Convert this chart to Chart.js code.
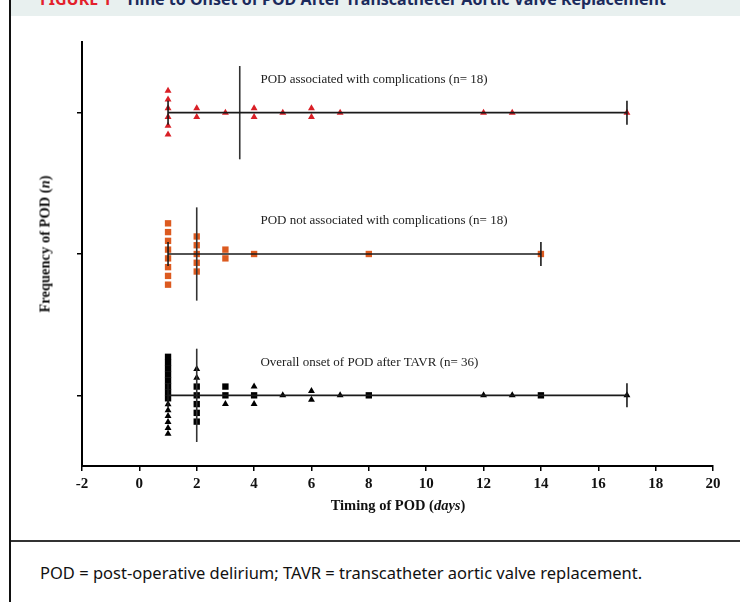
<!DOCTYPE html>
<html>
<head>
<meta charset="utf-8">
<title>Time to Onset of POD After TAVR</title>
<script src="https://cdn.jsdelivr.net/npm/chart.js@4.4.1/dist/chart.umd.min.js"></script>
<style>
  html, body { margin: 0; padding: 0; background: #fff; }
  #figure { position: relative; width: 740px; height: 602px; overflow: hidden; }
  #leftBorder { position: absolute; left: 9px; top: 0; width: 2px; height: 602px; background: #111; }
  #header { position: absolute; left: 11px; top: 0; width: 729px; height: 16px; background: #e8f0ef; overflow: hidden; }
  #header .t { position: absolute; left: 29px; top: -12px; line-height: 22px; font: bold 16px "Noto Sans", sans-serif; white-space: nowrap; }
  #header .fig { color: #e3202b; margin-right: 14px; }
  #header .name { color: #1b2a5c; }
  #divider { position: absolute; left: 11px; top: 540px; width: 729px; height: 2px; background: #333; }
  #caption { position: absolute; left: 40px; top: 562px; font: 16.5px "Noto Sans", sans-serif; line-height: 22px; color: #111; white-space: nowrap; }
  #nbaChart { position: absolute; left: 0; top: 0; }
  .axisTitle { position: absolute; font: bold 14.5px "Liberation Serif", serif; color: #111; white-space: nowrap; }
  #xTitle { left: 398px; top: 505px; transform: translate(-50%, -50%); }
  #yTitle { left: 45px; top: 244px; transform: translate(-50%, -50%) rotate(-90deg); }
</style>
</head>
<body>
<div id="figure">
  <div id="header"><div class="t"><span class="fig">FIGURE 1</span><span class="name">Time to Onset of POD After Transcatheter Aortic Valve Replacement</span></div></div>
  <div id="leftBorder"></div>
  <canvas id="nbaChart" width="740" height="541"></canvas>
  <div id="xTitle" class="axisTitle">Timing of POD (<i>days</i>)</div>
  <div id="yTitle" class="axisTitle">Frequency of POD (<i>n</i>)</div>
  <div id="divider"></div>
  <div id="caption">POD = post-operative delirium; TAVR = transcatheter aortic valve replacement.</div>
</div>
<script>
// Onset day of each POD case

// rows of the plot, bottom to top
const rowPositions = [1, 2, 3];
const rowLabels = [
    'Overall onset of POD after TAVR (n= 36)',
    'POD not associated with complications (n= 18)',
    'POD associated with complications (n= 18)'
];

// POD associated with complications (red triangles)
const complicationDays = [1, 1, 1, 1, 1, 1, 2, 2, 3, 4, 4, 5, 6, 6, 7, 12, 13, 17];

// POD not associated with complications (orange squares)
const noComplicationDays = [1, 1, 1, 1, 1, 1, 1, 1, 2, 2, 2, 2, 2, 3, 3, 4, 8, 14];

// overall row, listed top to bottom inside each day column
// C = with complications (triangle), N = without (square)
const overallDays = [1, 1, 1, 1, 1, 1, 1, 1, 1, 1, 1, 1, 1, 1,
    2, 2, 2, 2, 2, 2, 2, 3, 3, 3, 4, 4, 4, 5, 6, 6, 7, 8, 12, 13, 14, 17];
const overallGroup = ['N', 'N', 'N', 'N', 'N', 'N', 'N', 'N', 'C', 'C', 'C', 'C', 'C', 'C',
    'C', 'C', 'N', 'N', 'N', 'N', 'N', 'N', 'N', 'C', 'C', 'N', 'C', 'C', 'C', 'C', 'C', 'N', 'C', 'C', 'N', 'C'];

const xTicks = [-2, 0, 2, 4, 6, 8, 10, 12, 14, 16, 18, 20];

// look of the marks
const RED = '#d91f26';
const ORANGE = '#dc5a1f';
const LINE = '#1a1a1a';
const STEP = 0.062;       // vertical gap between stacked points (y units)
const MAX_SPAN = 0.545;   // tallest a stacked column may get
const MEDIAN_HALF = 0.33;
const CAP_HALF = 0.085;

// stack points of the same day in a column centred on the row
function stackColumn(days, row) {
    const pts = [];
    let i = 0;
    while (i < days.length) {
        let j = i;
        while (j < days.length && days[j] === days[i]) j++;
        const n = j - i;
        const step = n > 1 ? Math.min(STEP, MAX_SPAN / (n - 1)) : 0;
        for (let k = 0; k < n; k++) {
            pts.push({ x: days[i], y: row + ((n - 1) / 2 - k) * step });
        }
        i = j;
    }
    return pts;
}

function median(days) {
    const s = days.slice().sort((a, b) => a - b);
    const m = Math.floor(s.length / 2);
    return s.length % 2 ? s[m] : (s[m - 1] + s[m]) / 2;
}

function lineSet(points, color) {
    return {
        data: points,
        showLine: true,
        borderColor: color || LINE,
        borderWidth: 1.6,
        pointRadius: 0,
        fill: false
    };
}

// range line, end caps and median for one row
function summaryLines(days, row) {
    const lo = Math.min(...days);
    const hi = Math.max(...days);
    const med = median(days);
    return [
        lineSet([{ x: lo, y: row }, { x: hi, y: row }]),
        lineSet([{ x: lo, y: row - CAP_HALF }, { x: lo, y: row + CAP_HALF }]),
        lineSet([{ x: hi, y: row - CAP_HALF }, { x: hi, y: row + CAP_HALF }]),
        lineSet([{ x: med, y: row - MEDIAN_HALF }, { x: med, y: row + MEDIAN_HALF }], '#333')
    ];
}

function pointSet(points, color, style, radius) {
    return {
        data: points,
        showLine: false,
        pointStyle: style,
        pointRadius: radius,
        pointBackgroundColor: color,
        pointBorderColor: color,
        pointBorderWidth: 0
    };
}

// overall row: place all points together, then split by marker
const overallPts = stackColumn(overallDays, rowPositions[0]);
const overallTri = overallPts.filter((p, i) => overallGroup[i] === 'C');
const overallSq = overallPts.filter((p, i) => overallGroup[i] === 'N');

// first datasets are drawn on top, so lines go first
const datasets = [
    ...summaryLines(overallDays, rowPositions[0]),
    ...summaryLines(noComplicationDays, rowPositions[1]),
    ...summaryLines(complicationDays, rowPositions[2]),
    pointSet(stackColumn(complicationDays, rowPositions[2]), RED, 'triangle', 4),
    pointSet(stackColumn(noComplicationDays, rowPositions[1]), ORANGE, 'rect', 4.5),
    pointSet(overallTri, '#000', 'triangle', 4),
    pointSet(overallSq, '#000', 'rect', 4.5)
];

// text next to each row
const rowLabelPlugin = {
    id: 'rowLabels',
    afterDatasetsDraw(chart) {
        const { ctx, scales: { x, y } } = chart;
        ctx.save();
        ctx.font = '13px "Liberation Serif"';
        ctx.fillStyle = '#222';
        ctx.textBaseline = 'middle';
        rowLabels.forEach((label, i) => {
            ctx.fillText(label, x.getPixelForValue(4.22), y.getPixelForValue(rowPositions[i] + 0.235));
        });
        ctx.restore();
    }
};

const axisBorder = { display: true, color: '#000', width: 2 };
const axisGrid = { drawOnChartArea: false, drawTicks: true, tickLength: 5, color: '#000', lineWidth: 1.5 };

const ctx = document.getElementById('nbaChart').getContext('2d');
let chart = new Chart(ctx, {
    type: 'scatter',
    data: { datasets: datasets },
    options: {
        responsive: false,
        animation: false,
        layout: { padding: { top: 42, right: 27, left: 0, bottom: 0 } },
        plugins: { legend: { display: false }, tooltip: { enabled: false } },
        scales: {
            x: {
                type: 'linear',
                min: -2,
                max: 20,
                afterBuildTicks: s => { s.ticks = xTicks.map(v => ({ value: v })); },
                afterFit: s => { s.height = 75; },
                border: axisBorder,
                grid: axisGrid,
                ticks: {
                    color: '#111',
                    padding: 4,
                    maxRotation: 0,
                    font: { family: 'Liberation Serif', size: 15, weight: 'bold' }
                }
            },
            y: {
                type: 'linear',
                min: 0.5,
                max: 3.5,
                afterBuildTicks: s => { s.ticks = rowPositions.map(v => ({ value: v })); },
                afterFit: s => { s.width = 82; },
                border: axisBorder,
                grid: axisGrid,
                ticks: { callback: () => '', padding: 0 }
            }
        }
    },
    plugins: [rowLabelPlugin]
});
</script>
</body>
</html>
